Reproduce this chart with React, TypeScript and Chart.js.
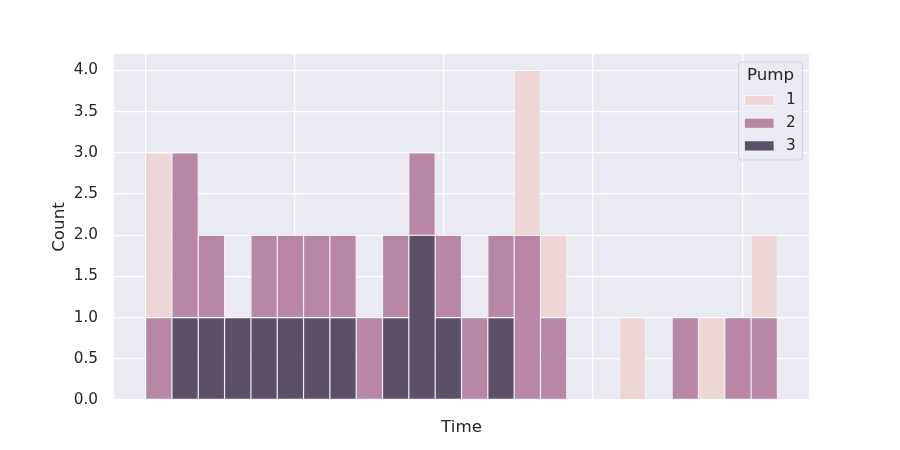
import { useEffect, useRef } from "react";
import { Chart, registerables } from "chart.js";

Chart.register(...registerables);

// Histogram bins (bin index along the Time axis)
const bins = [0, 1, 2, 3, 4, 5, 6, 7, 8, 9, 10, 11, 12, 13, 14, 15, 16, 17, 18, 19, 20, 21, 22, 23];
// Counts per bin, stacked: Pump 3 at the bottom, then Pump 2, then Pump 1
const pump1 = [2, 0, 0, 0, 0, 0, 0, 0, 0, 0, 0, 0, 0, 0, 2, 1, 0, 0, 1, 0, 0, 1, 0, 1];
const pump2 = [1, 2, 1, 0, 1, 1, 1, 1, 1, 1, 1, 1, 1, 1, 2, 1, 0, 0, 0, 0, 1, 0, 1, 1];
const pump3 = [0, 1, 1, 1, 1, 1, 1, 1, 0, 1, 2, 1, 0, 1, 0, 0, 0, 0, 0, 0, 0, 0, 0, 0];
const pumpNames = ["1", "2", "3"];
const pumpColors = ["#ecd6d6", "#b987a6", "#5c5069"];
const yTicks = [0, 0.5, 1, 1.5, 2, 2.5, 3, 3.5, 4];
const timeTicks = [0, 5.667, 11.333, 17, 22.667];

const FONT = "DejaVu Sans";
const TEXT = "#262626";

const bgPlugin = {
  id: "bgPlugin",
  beforeDraw(chart: any) {
    const { ctx, chartArea } = chart;
    ctx.save();
    ctx.fillStyle = "#eaeaf2";
    ctx.fillRect(chartArea.left, chartArea.top, chartArea.right - chartArea.left, chartArea.bottom - chartArea.top);
    ctx.restore();
  },
};

const legendPlugin = {
  id: "pumpLegend",
  afterDraw(chart: any) {
    const { ctx } = chart;
    const x0 = 738.5, y0 = 62, w = 64, h = 98, r = 3;
    ctx.save();
    ctx.beginPath();
    ctx.moveTo(x0 + r, y0);
    ctx.lineTo(x0 + w - r, y0);
    ctx.quadraticCurveTo(x0 + w, y0, x0 + w, y0 + r);
    ctx.lineTo(x0 + w, y0 + h - r);
    ctx.quadraticCurveTo(x0 + w, y0 + h, x0 + w - r, y0 + h);
    ctx.lineTo(x0 + r, y0 + h);
    ctx.quadraticCurveTo(x0, y0 + h, x0, y0 + h - r);
    ctx.lineTo(x0, y0 + r);
    ctx.quadraticCurveTo(x0, y0, x0 + r, y0);
    ctx.closePath();
    ctx.fillStyle = "rgba(234,234,242,0.8)";
    ctx.fill();
    ctx.strokeStyle = "rgba(204,204,204,0.8)";
    ctx.lineWidth = 1;
    ctx.stroke();

    ctx.fillStyle = TEXT;
    ctx.textBaseline = "middle";
    ctx.textAlign = "center";
    ctx.font = `16.7px "${FONT}"`;
    ctx.fillText("Pump", x0 + w / 2, 76);

    ctx.font = `15.3px "${FONT}"`;
    pumpNames.forEach((name, i) => {
      const cy = 100.5 + i * 22.7;
      ctx.fillStyle = pumpColors[i];
      ctx.fillRect(744.5, cy - 5, 29.5, 10);
      ctx.strokeStyle = "rgba(255,255,255,0.8)";
      ctx.lineWidth = 0.8;
      ctx.strokeRect(744.5, cy - 5, 29.5, 10);
      ctx.fillStyle = TEXT;
      ctx.textAlign = "left";
      ctx.fillText(name, 786, cy);
    });
    ctx.restore();
  },
};

function makeDataset(label: string, values: number[], color: string) {
  return {
    label,
    data: bins.map((b, i) => ({ x: b + 0.5, y: values[i] === 0 ? null : values[i] })),
    backgroundColor: color,
    borderColor: "rgba(255,255,255,0.8)",
    borderWidth: 0.6,
    borderSkipped: false,
    inflateAmount: 0,
    barPercentage: 1,
    categoryPercentage: 1,
  };
}

export default function App() {
  const ref = useRef<HTMLCanvasElement | null>(null);

  useEffect(() => {
    document.body.style.margin = "0";
    if (!ref.current) return;
    const chart = new Chart(ref.current, {
      type: "bar",
      data: {
        datasets: [
          makeDataset("3", pump3, pumpColors[2]),
          makeDataset("2", pump2, pumpColors[1]),
          makeDataset("1", pump1, pumpColors[0]),
        ],
      },
      options: {
        responsive: false,
        animation: false,
        devicePixelRatio: 1,
        layout: { padding: { top: 54, right: 91, left: 0, bottom: 0 } },
        plugins: {
          legend: { display: false },
          tooltip: { enabled: false },
        },
        scales: {
          x: {
            type: "linear",
            stacked: true,
            min: -1.2,
            max: 25.2,
            offset: false,
            border: { display: false },
            grid: { color: "#ffffff", lineWidth: 1.3, drawTicks: false, offset: false },
            ticks: { display: false },
            afterBuildTicks: (scale: any) => {
              scale.ticks = timeTicks.map((v) => ({ value: v }));
            },
            afterFit: (scale: any) => {
              scale.height = 50;
            },
            title: {
              display: true,
              text: "Time",
              color: TEXT,
              font: { family: FONT, size: 16.7 },
              padding: { top: 0, bottom: 12 },
            },
          },
          y: {
            type: "linear",
            stacked: true,
            min: 0,
            max: 4.2,
            border: { display: false },
            grid: { color: "#ffffff", lineWidth: 1.3, drawTicks: false },
            afterBuildTicks: (scale: any) => {
              scale.ticks = yTicks.map((v) => ({ value: v }));
            },
            afterFit: (scale: any) => {
              scale.width = 114;
            },
            ticks: {
              color: TEXT,
              padding: 16,
              font: { family: FONT, size: 15.3 },
              callback: (v: any) => Number(v).toFixed(1),
            },
            title: {
              display: true,
              text: "Count",
              color: TEXT,
              font: { family: FONT, size: 16.7 },
              padding: { top: 50, bottom: 0 },
            },
          },
        },
      },
      plugins: [bgPlugin, legendPlugin],
    } as any);
    return () => chart.destroy();
  }, []);

  return (
    <div style={{ width: 900, height: 450 }}>
      <canvas ref={ref} width={900} height={450} />
    </div>
  );
}
